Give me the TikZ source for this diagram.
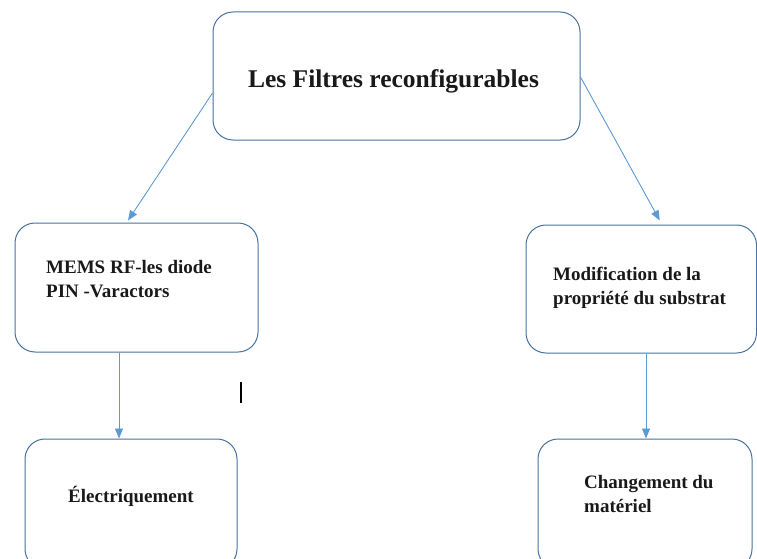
\documentclass[tikz,border=0pt]{standalone}
\usepackage{fontspec}
\setmainfont{Liberation Serif}
\usetikzlibrary{arrows.meta}
\definecolor{boxline}{RGB}{70,114,160}
\definecolor{arrowline}{RGB}{91,155,213}
\begin{document}
\begin{tikzpicture}[x=1pt,y=-1pt,
  box/.style={draw=boxline, line width=1pt, rounded corners=20pt, inner sep=0pt, minimum width=#1},
  lbl/.style={font=\bfseries\fontsize{19}{24}\selectfont, align=left, inner sep=0pt, anchor=base west, text=black!90},
  toplbl/.style={font=\bfseries\fontsize{25.5}{30}\selectfont, inner sep=0pt, anchor=base, text=black!90},
  conn/.style={draw=arrowline, line width=0.9pt, -{Triangle[length=10pt,width=8pt]}}]
\useasboundingbox (0,0) rectangle (757,559);
\clip (0,0) rectangle (757,559);
% boxes
\node[box=367pt, minimum height=128pt] (top) at (396.5,76) {};
\node[box=243pt, minimum height=129pt] (lmid) at (136.5,287.5) {};
\node[box=230.5pt, minimum height=128pt] (rmid) at (641.25,289) {};
\node[box=212pt, minimum height=130pt] (lbot) at (131,504) {};
\node[box=214pt, minimum height=130pt] (rbot) at (645,504) {};
% texts
\node[toplbl] (toptxt) at (393.5,88) {Les Filtres reconfigurables};
\node[lbl] (lmidtxt) at (46,297) {MEMS RF-les diode\\PIN -Varactors};
\node[lbl] (rmidtxt) at (553,304) {Modification de la\\propriété du substrat};
\node[lbl] (lbottxt) at (68,502) {Électriquement};
\node[lbl] (rbottxt) at (584,512) {Changement du\\matériel};
% connectors
\draw[conn] ([yshift=-17pt]top.west) -- ([xshift=-8.5pt,yshift=2pt]lmid.north);
\draw[conn] ([yshift=-1pt]top.east) -- ([xshift=18.5pt,yshift=4pt]rmid.north);
\draw[conn] ([xshift=-17.5pt]lmid.south) -- ([xshift=-17.5pt]lmid.south |- lbot.north);
\draw[conn] ([xshift=4.75pt]rmid.south) -- ([xshift=4.75pt]rmid.south |- rbot.north);
% text cursor
\draw[line width=1.2pt, black] (241,382) -- (241,403);
\end{tikzpicture}
\end{document}
